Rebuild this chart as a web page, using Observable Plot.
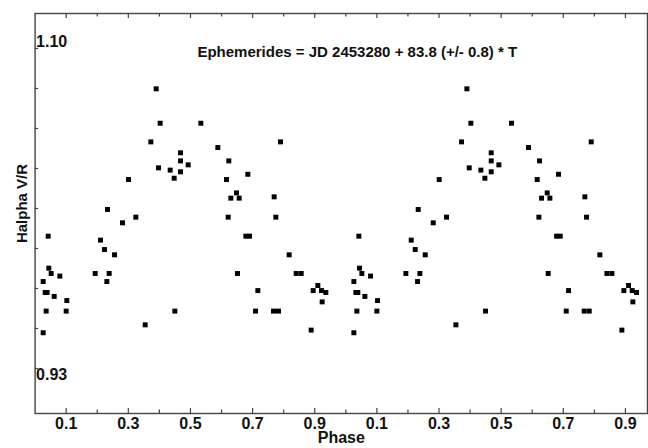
<!DOCTYPE html>
<html><head><meta charset="utf-8">
<script src="https://cdn.jsdelivr.net/npm/d3@7"></script>
<script src="https://cdn.jsdelivr.net/npm/@observablehq/plot@0.6"></script>
<style>body{margin:0;background:#fff}</style>
</head><body><div id="chart"></div>
<script>
// Phase-folded Halpha V/R measurements (each shown at phase and phase+1)
const phase = [0.0260,0.0260,0.0324,0.0388,0.0356,0.0421,0.0442,0.0517,0.0614,0.0796,0.1000,0.1021,
  0.1933,0.2105,0.2234,0.2309,0.2330,0.2384,0.2556,0.2813,0.3006,0.3242,0.3543,0.3725,0.3897,0.3972,
  0.4025,0.4347,0.4476,0.4497,0.4680,0.4680,0.4680,0.4927,0.5334,0.5881,0.6160,0.6214,0.6235,0.6300,
  0.6482,0.6514,0.6568,0.6783,0.6901,0.6847,0.7094,0.7169,0.7694,0.7673,0.7834,0.7748,0.7898,0.8177,
  0.8403,0.8564,0.8885,0.8950,0.9100,0.9218,0.9239,0.9357];
const vr = [0.9490,0.9762,0.9704,0.9704,0.9605,1.0003,0.9833,0.9805,0.9683,0.9791,0.9605,0.9661,
  0.9805,0.9982,0.9932,0.9762,1.0145,0.9805,0.9904,1.0074,1.0304,1.0104,0.9532,1.0504,1.0786,1.0366,
  1.0603,1.0354,1.0311,0.9605,1.0446,1.0403,1.0345,1.0382,1.0603,1.0474,1.0304,1.0104,1.0403,1.0205,
  1.0233,0.9805,1.0205,1.0003,1.0003,1.0332,0.9605,0.9714,1.0212,0.9605,0.9605,1.0104,1.0504,0.9904,
  0.9805,0.9805,0.9504,0.9714,0.9741,0.9714,0.9654,0.9704];
const cycles = [0, 1];
const xMajor = [0.1,0.3,0.5,0.7,0.9,1.1,1.3,1.5,1.7,1.9];
const xMinor = [0.2,0.4,0.6,0.8,1.0,1.2,1.4,1.6,1.8];
const xLabels = ["0.1","0.3","0.5","0.7","0.9","0.1","0.3","0.5","0.7","0.9"];
const yTicks = [0.93,0.95125,0.9725,0.99375,1.015,1.03625,1.0575,1.07875,1.10];
const yTop = {v: 1.10, t: "1.10"};
const yBottom = {v: 0.93, t: "0.93"};
const title = "Ephemerides = JD 2453280 + 83.8 (+/- 0.8) * T";

const points = cycles.flatMap(c => phase.map((p, i) => ({p: p + c, v: vr[i]})));

const W = 648, H = 448, mt = 13, mb = 35, ml = 34.6, mr = 1;
const ph = H - mt - mb, pw = W - ml - mr;

const chart = Plot.plot({
  width: W, height: H,
  marginTop: mt, marginBottom: mb, marginLeft: ml, marginRight: mr,
  style: {fontFamily: "'Liberation Sans', Arial, sans-serif", fontWeight: "bold", fontSize: "16px", background: "#fff", color: "#111"},
  x: {domain: [0, 1.971], axis: null},
  y: {domain: [0.9061, 1.1186], axis: null},
  marks: [
    Plot.frame({stroke: "#444", strokeWidth: 1.4}),
    Plot.ruleX(xMajor, {x: d => d, insetTop: ph - 5, stroke: "#444", strokeWidth: 1.2}),
    Plot.ruleX(xMinor, {x: d => d, insetTop: ph - 3.5, stroke: "#444", strokeWidth: 1.2}),
    Plot.ruleX(xMajor, {x: d => d, insetBottom: ph - 5, stroke: "#444", strokeWidth: 1.2}),
    Plot.ruleX(xMinor, {x: d => d, insetBottom: ph - 3.5, stroke: "#444", strokeWidth: 1.2}),
    Plot.ruleY(yTicks, {y: d => d, insetRight: pw - 3.5, stroke: "#444", strokeWidth: 1.2}),
    Plot.axisX(xMajor, {tickSize: 0, tickPadding: 4, tickFormat: (d, i) => xLabels[i], fontSize: 16, fontWeight: "bold", label: null}),
    Plot.text([yTop], {y: "v", text: "t", frameAnchor: "left", textAnchor: "start", lineAnchor: "bottom", dx: 1, dy: -2}),
    Plot.text([yBottom], {y: "v", text: "t", frameAnchor: "left", textAnchor: "start", lineAnchor: "top", dx: 1, dy: 0}),
    Plot.text([title], {frameAnchor: "top", lineAnchor: "middle", dx: 16, dy: 39, fontSize: 15}),
    Plot.text(["Phase"], {frameAnchor: "bottom", lineAnchor: "middle", dy: 24, fontSize: 16}),
    Plot.text(["Halpha V/R"], {frameAnchor: "left", rotate: -90, textAnchor: "middle", lineAnchor: "middle", dx: -13, dy: -10, fontSize: 15}),
    Plot.dot(points, {x: "p", y: "v", symbol: "square", r: 2.8, fill: "#000", stroke: "none"})
  ]
});
document.getElementById("chart").appendChild(chart);
</script>
</body></html>
